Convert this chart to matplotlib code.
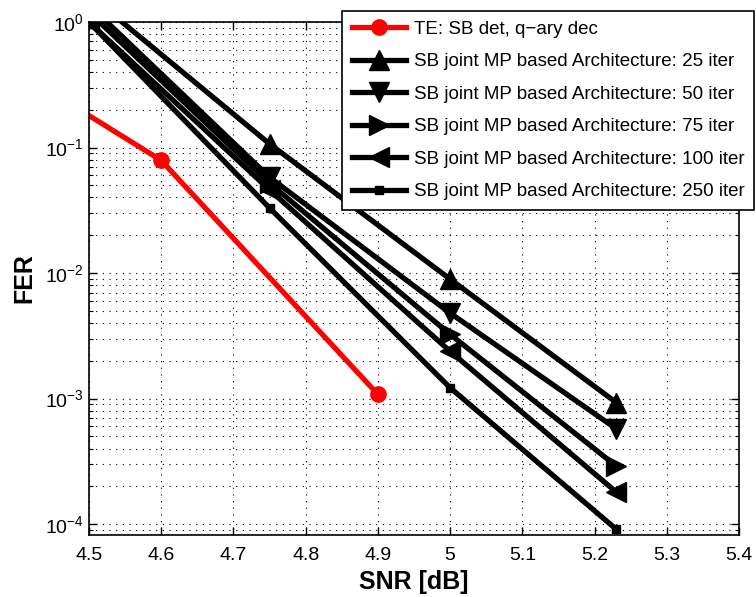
import matplotlib.pyplot as plt
from matplotlib.ticker import LogLocator, NullFormatter

plt.rcParams['font.family'] = ['Liberation Sans', 'DejaVu Sans']

# TE reference curve (first point lies left of the axes, clipped)
snr_te = [4.4, 4.6, 4.9]
fer_te = [0.41, 0.079, 1.08e-3]

# SB joint MP architecture, FER vs SNR for several iteration counts
snr_sb = [4.5, 4.75, 5.0, 5.23]
fer_25 = [1.65, 0.107, 8.95e-3, 9.3e-4]
fer_50 = [1.37, 0.058, 4.8e-3, 5.75e-4]
fer_75 = [1.2, 0.052, 3.25e-3, 2.9e-4]
fer_100 = [1.0, 0.046, 2.38e-3, 1.8e-4]
fer_250 = [1.0, 0.033, 1.22e-3, 9.1e-5]

xticks = [4.5, 4.6, 4.7, 4.8, 4.9, 5.0, 5.1, 5.2, 5.3, 5.4]
xticklabels = ['4.5', '4.6', '4.7', '4.8', '4.9', '5', '5.1', '5.2', '5.3', '5.4']

fig = plt.figure(figsize=(7.56, 5.97), dpi=100)
ax = fig.add_axes([0.1177, 0.104, 0.8598, 0.8591])

lw = 3.8
ax.semilogy(snr_te, fer_te, color='red', linewidth=lw, marker='o', markersize=11,
            label='TE: SB det, q\u2212ary dec')
ax.semilogy(snr_sb, fer_25, color='black', linewidth=lw, marker='^', markersize=15,
            label='SB joint MP based Architecture: 25 iter')
ax.semilogy(snr_sb, fer_50, color='black', linewidth=lw, marker='v', markersize=15,
            label='SB joint MP based Architecture: 50 iter')
ax.semilogy(snr_sb, fer_75, color='black', linewidth=lw, marker='>', markersize=15,
            label='SB joint MP based Architecture: 75 iter')
ax.semilogy(snr_sb, fer_100, color='black', linewidth=lw, marker='<', markersize=15,
            label='SB joint MP based Architecture: 100 iter')
ax.semilogy(snr_sb, fer_250, color='black', linewidth=lw, marker='s', markersize=6,
            label='SB joint MP based Architecture: 250 iter')

ax.set_xlim(4.5, 5.4)
ax.set_ylim(8.2e-5, 1)
ax.set_xticks(xticks)
ax.set_xticklabels(xticklabels)
ax.yaxis.set_major_locator(LogLocator(base=10, numticks=10))
ax.yaxis.set_minor_locator(LogLocator(base=10, subs=range(2, 10), numticks=20))
ax.yaxis.set_minor_formatter(NullFormatter())

ax.tick_params(which='both', direction='in', top=True, right=True, labelsize=14)
ax.tick_params(which='major', length=6, width=1)
ax.tick_params(which='minor', length=3, width=0.8)
ax.tick_params(axis='x', which='both', pad=9)
ax.tick_params(axis='x', which='minor', bottom=False, top=False)

dots = (0, (1, 5))
ax.grid(True, which='major', linestyle=dots, color='black', linewidth=0.8)
ax.grid(True, which='minor', axis='y', linestyle=dots, color='black', linewidth=0.8)
for s in ax.spines.values():
    s.set_linewidth(1.2)

ax.set_xlabel('SNR [dB]', fontsize=18, fontweight='bold', labelpad=4)
ax.set_ylabel('FER', fontsize=18, fontweight='bold', labelpad=6)

leg = ax.legend(loc='upper right', bbox_to_anchor=(0.997, 0.981),
                bbox_transform=fig.transFigure, fontsize=13.5, frameon=True,
                fancybox=False, edgecolor='black', framealpha=1,
                handlelength=2.9, borderpad=0.5, labelspacing=0.82,
                handletextpad=0.4, borderaxespad=0)
leg.get_frame().set_linewidth(1.2)

fig.savefig('out.png', dpi=100)
